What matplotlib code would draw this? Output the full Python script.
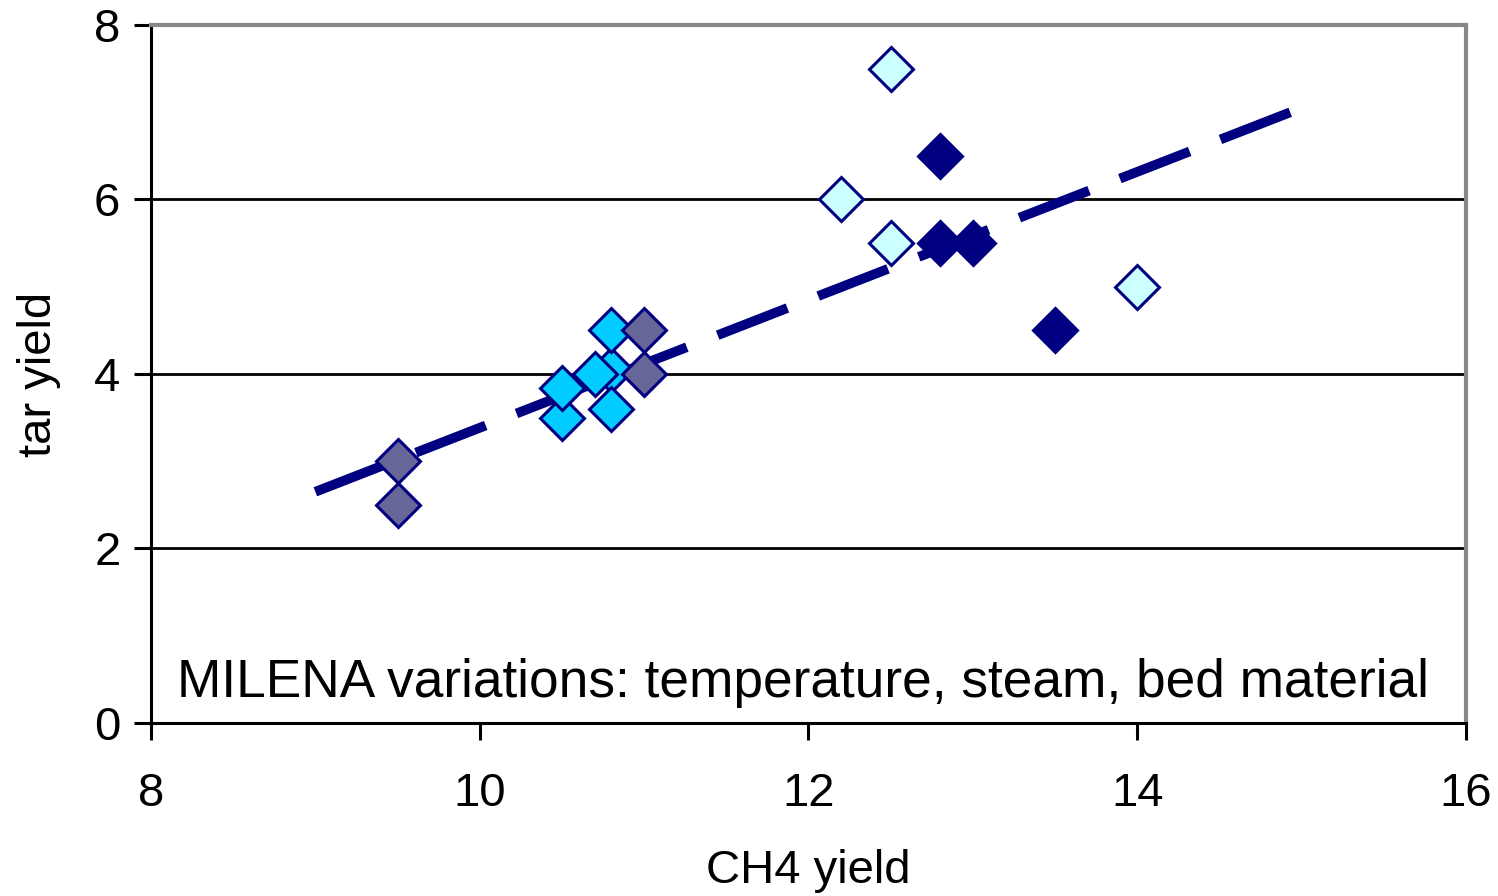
import matplotlib
matplotlib.use("Agg")
import matplotlib.pyplot as plt

plt.rcParams['font.family'] = ['Liberation Sans', 'DejaVu Sans']

# series
gray_x = [9.5, 9.5, 11.0, 11.0]
gray_y = [3.0, 2.5, 4.5, 4.0]

cyan_x = [10.8, 10.5, 10.5, 10.7, 10.8, 10.8]
cyan_y = [4.05, 3.5, 3.84, 4.0, 4.5, 3.6]

pale_x = [12.5, 12.2, 12.5, 14.0]
pale_y = [7.5, 6.0, 5.5, 5.0]

navy_x = [12.8, 12.8, 13.0, 13.5]
navy_y = [6.5, 5.5, 5.5, 4.5]

trend_x = [9.0, 15.0]
trend_y = [2.65, 7.05]

x_ticks = [8, 10, 12, 14, 16]
y_ticks = [0, 2, 4, 6, 8]


def main():
    fig = plt.figure(figsize=(14.98, 8.96), dpi=100)
    ax = fig.add_axes([0.1008, 0.1931, 0.8778, 0.7790])

    ax.plot(trend_x, trend_y, color="#000080", lw=7, dashes=(7.7, 3.4), zorder=2,
            solid_capstyle="butt", dash_capstyle="butt")

    ms, mew = 22, 2.2
    ax.plot(cyan_x, cyan_y, "D", ms=ms, mfc="#00CCFF", mec="#000080", mew=mew, zorder=3)
    ax.plot(gray_x, gray_y, "D", ms=ms, mfc="#666699", mec="#000080", mew=mew, zorder=3)
    ax.plot(pale_x, pale_y, "D", ms=ms, mfc="#CCFFFF", mec="#000080", mew=mew, zorder=3)
    ax.plot(navy_x, navy_y, "D", ms=ms, mfc="#000080", mec="#000080", mew=mew, zorder=3)

    ax.set_xlim(8, 16)
    ax.set_ylim(0, 8)
    ax.set_xticks(x_ticks)
    ax.set_yticks(y_ticks)
    ax.yaxis.grid(True, color="black", lw=2)
    ax.set_axisbelow(True)

    for s in ["top", "right"]:
        ax.spines[s].set_color("#888888")
        ax.spines[s].set_linewidth(3)
    for s in ["left", "bottom"]:
        ax.spines[s].set_color("black")
        ax.spines[s].set_linewidth(2.2)

    ax.tick_params(direction="out", length=12, width=2.2, labelsize=34)
    ax.tick_params(axis="x", pad=23)
    ax.tick_params(axis="y", pad=10)

    ax.set_xlabel("CH4 yield", fontsize=34, labelpad=24)
    ax.set_ylabel("tar yield", fontsize=34, labelpad=24)

    ax.text(8.16, 0.3, "MILENA variations: temperature, steam, bed material",
            fontsize=38.3, ha="left", va="baseline")

    fig.savefig("out.png", dpi=100)


if __name__ == "__main__":
    main()
